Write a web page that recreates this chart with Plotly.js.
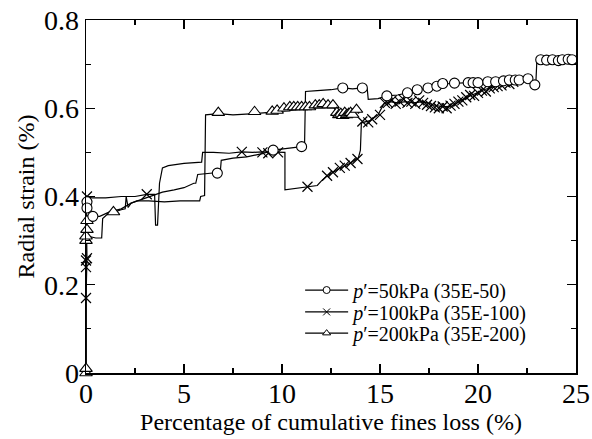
<!DOCTYPE html>
<html>
<head>
<meta charset="utf-8">
<script src="https://cdn.plot.ly/plotly-3.0.1.min.js"></script>
<style>html,body{margin:0;padding:0;background:#fff;}#chart{width:592px;height:439px;}</style>
</head>
<body>
<div id="chart"></div>
<script>
// ---- Series: p'=50kPa (35E-50), circles ----
const s50LineX = [0, 0, 0.05, 0.05, 0.3, 0.7, 1.2, 1.8, 2.3, 2.6, 3.0, 3.5, 3.9, 4.5, 5.0, 5.5, 5.6, 5.7, 6.2, 6.7, 6.85, 6.9, 7.5, 8.2, 9.0, 9.55, 10.2, 11.0, 11.15, 11.2, 11.8, 12.5, 13.1, 13.6, 14.1, 14.35, 14.4, 14.9, 15.35, 15.9, 16.4, 16.9, 17.45, 17.9, 18.2, 18.8, 19.5, 20.0, 20.5, 20.9, 21.3, 21.6, 22.1, 22.55, 22.8, 22.9, 22.95, 23.0, 23.5, 24.0, 24.5, 24.8];
const s50LineY = [0, 0.37, 0.39, 0.375, 0.355, 0.355, 0.365, 0.372, 0.385, 0.39, 0.395, 0.405, 0.41, 0.415, 0.42, 0.43, 0.43, 0.45, 0.452, 0.453, 0.455, 0.482, 0.487, 0.49, 0.497, 0.505, 0.508, 0.513, 0.515, 0.638, 0.64, 0.642, 0.646, 0.644, 0.646, 0.644, 0.62, 0.622, 0.628, 0.63, 0.635, 0.642, 0.646, 0.65, 0.655, 0.657, 0.658, 0.658, 0.66, 0.661, 0.662, 0.664, 0.664, 0.667, 0.66, 0.653, 0.655, 0.705, 0.708, 0.709, 0.71, 0.71];
const s50MarkX = [0.05, 0.05, 0.35, 6.7, 9.55, 11.0, 13.1, 14.1, 15.35, 16.4, 16.9, 17.45, 17.9, 18.2, 18.8, 19.5, 19.75, 20.0, 20.5, 20.9, 21.3, 21.6, 21.9, 22.1, 22.55, 22.9, 23.2, 23.5, 23.8, 24.1, 24.3, 24.6, 24.8];
const s50MarkY = [0.388, 0.374, 0.355, 0.453, 0.505, 0.513, 0.646, 0.646, 0.628, 0.635, 0.642, 0.646, 0.65, 0.656, 0.657, 0.658, 0.658, 0.658, 0.66, 0.66, 0.662, 0.664, 0.664, 0.664, 0.667, 0.653, 0.71, 0.709, 0.71, 0.708, 0.71, 0.711, 0.71];

// ---- Series: p'=100kPa (35E-100), crosses ----
const s100LineX = [0, 0, 0.05, 0, 0.3, 1.0, 1.8, 2.5, 3.1, 3.5, 3.55, 3.65, 3.75, 3.9, 4.2, 5.0, 5.9, 5.95, 6.5, 7.3, 7.95, 8.5, 9.0, 9.8, 10.15, 10.15, 10.6, 11.3, 11.8, 12.0, 12.3, 12.7, 13.0, 13.5, 13.9, 14.0, 14.05, 14.5, 14.9, 15.2, 15.5, 15.9, 16.3, 16.7, 17.2, 17.7, 18.2, 18.7, 19.2, 19.7, 20.3, 21.0, 21.4, 21.8];
const s100LineY = [0, 0.17, 0.26, 0.40, 0.397, 0.397, 0.40, 0.40, 0.405, 0.405, 0.335, 0.335, 0.43, 0.465, 0.47, 0.475, 0.478, 0.50, 0.50, 0.498, 0.501, 0.50, 0.501, 0.50, 0.50, 0.415, 0.418, 0.422, 0.425, 0.435, 0.447, 0.457, 0.465, 0.476, 0.488, 0.505, 0.567, 0.572, 0.585, 0.61, 0.615, 0.612, 0.615, 0.612, 0.615, 0.608, 0.603, 0.605, 0.62, 0.63, 0.642, 0.651, 0.66, 0.655];
const s100MarkX = [0, 0, 0, 0.05, 0.05, 3.1, 7.95, 9.0, 9.3, 9.8, 11.3, 12.3, 12.6, 12.95, 13.2, 13.5, 13.85, 14.1, 14.4, 14.6, 15.0, 15.25, 15.4, 15.6, 15.8, 16.0, 16.2, 16.4, 16.6, 16.8, 17.0, 17.2, 17.4, 17.6, 17.8, 18.0, 18.2, 18.4, 18.6, 18.8, 19.0, 19.2, 19.4, 19.6, 19.8, 20.0, 20.2, 20.4, 20.6, 20.8, 21.0, 21.2, 21.4, 21.6, 21.8];
const s100MarkY = [0.17, 0.24, 0.255, 0.26, 0.40, 0.405, 0.501, 0.50, 0.498, 0.50, 0.422, 0.447, 0.455, 0.465, 0.47, 0.476, 0.485, 0.57, 0.568, 0.575, 0.585, 0.612, 0.612, 0.618, 0.61, 0.615, 0.62, 0.612, 0.615, 0.61, 0.618, 0.612, 0.608, 0.605, 0.602, 0.60, 0.604, 0.60, 0.606, 0.61, 0.615, 0.618, 0.625, 0.63, 0.628, 0.635, 0.64, 0.638, 0.645, 0.648, 0.65, 0.652, 0.658, 0.655, 0.66];

// ---- Series: p'=200kPa (35E-200), triangles ----
const s200LineX = [0, 0, 0.1, 0.5, 0.8, 0.85, 1.1, 1.4, 1.8, 2.0, 2.05, 2.15, 2.3, 2.6, 3.2, 4.0, 4.8, 5.5, 5.8, 5.85, 6.05, 6.1, 6.75, 7.5, 8.0, 8.6, 9.2, 9.8, 10.4, 11.0, 11.6, 12.1, 12.6, 12.8, 13.0, 13.2, 13.3, 13.5, 13.6, 13.8, 13.9, 14.0];
const s200LineY = [0, 0.30, 0.31, 0.306, 0.306, 0.35, 0.36, 0.365, 0.37, 0.372, 0.40, 0.375, 0.385, 0.39, 0.39, 0.388, 0.39, 0.39, 0.39, 0.40, 0.402, 0.585, 0.588, 0.585, 0.587, 0.588, 0.59, 0.592, 0.595, 0.598, 0.60, 0.605, 0.605, 0.59, 0.583, 0.60, 0.582, 0.598, 0.583, 0.60, 0.588, 0.595];
const s200MarkX = [0, 0, 0, 0, 0.05, 0.05, 1.4, 6.75, 8.6, 9.5, 9.75, 10.1, 10.4, 10.6, 10.8, 11.0, 11.2, 11.4, 11.7, 11.9, 12.1, 12.35, 12.6, 12.8, 12.9, 13.0, 13.1, 13.2, 13.3, 13.4, 13.5, 13.6, 13.8];
const s200MarkY = [0, 0.01, 0.30, 0.31, 0.325, 0.345, 0.365, 0.59, 0.592, 0.593, 0.595, 0.60, 0.603, 0.603, 0.603, 0.603, 0.603, 0.603, 0.607, 0.607, 0.61, 0.607, 0.607, 0.59, 0.585, 0.588, 0.583, 0.59, 0.585, 0.588, 0.59, 0.586, 0.597];

const seriesNames = ["<i>p</i>′=50kPa (35E-50)", "<i>p</i>′=100kPa (35E-100)", "<i>p</i>′=200kPa (35E-200)"];
const xTicks = [0, 5, 10, 15, 20, 25];
const yTicks = [0, 0.2, 0.4, 0.6, 0.8];

const FONT = "'Liberation Serif', 'Times New Roman', serif";
const lineStyle = {color: '#000', width: 1.2};
const circleM = {symbol: 'circle', size: 10, color: '#fff', line: {color: '#000', width: 1.1}};
const crossM = {symbol: 'x-thin', size: 10, color: '#000', line: {color: '#000', width: 1.2}};
const triM = {symbol: 'triangle-up', size: 11, color: '#fff', line: {color: '#000', width: 1.1}};

function lineTrace(x, y) {
  return {x: x, y: y, mode: 'lines', line: lineStyle, showlegend: false, hoverinfo: 'skip'};
}
function markTrace(x, y, m) {
  return {x: x, y: y, mode: 'markers', marker: m, showlegend: false, cliponaxis: false, hoverinfo: 'skip'};
}
function legendTrace(name, m, leg) {
  const lm = Object.assign({}, m, {size: 7, line: {color: '#000', width: 1}});
  return {x: [null], y: [null], mode: 'lines+markers', name: name, line: lineStyle, marker: lm, legend: leg};
}

const data = [
  lineTrace(s50LineX, s50LineY),
  lineTrace(s100LineX, s100LineY),
  lineTrace(s200LineX, s200LineY),
  markTrace(s100MarkX, s100MarkY, crossM),
  markTrace(s200MarkX, s200MarkY, triM),
  markTrace(s50MarkX, s50MarkY, circleM),
  legendTrace(seriesNames[0], circleM, 'legend'),
  legendTrace(seriesNames[1], crossM, 'legend2'),
  legendTrace(seriesNames[2], triM, 'legend3')
];

const axisCommon = {
  showline: true, linecolor: '#000', linewidth: 1.5, mirror: 'ticks',
  ticks: 'inside', ticklen: 9, tickwidth: 1.2, tickcolor: '#000',
  showgrid: false, zeroline: false,
  tickfont: {family: FONT, size: 28, color: '#000'}
};

function legendAt(yPaper) {
  return {
    x: 0.437, y: yPaper, xanchor: 'left', yanchor: 'middle',
    bgcolor: 'rgba(0,0,0,0)', borderwidth: 0,
    font: {family: FONT, size: 20, color: '#000'},
    itemwidth: 43
  };
}

const layout = {
  width: 592, height: 439,
  margin: {l: 86, r: 16, t: 20, b: 66},
  paper_bgcolor: '#fff', plot_bgcolor: '#fff',
  font: {family: FONT, color: '#000'},
  xaxis: Object.assign({}, axisCommon, {
    range: [0, 25], tickvals: xTicks, ticktext: xTicks.map(String),
    ticklabelstandoff: -5,
    minor: {dtick: 2.5, ticks: 'inside', ticklen: 5, tickwidth: 1.2, tickcolor: '#000', showgrid: false},
    title: {text: 'Percentage of cumulative fines loss (%)', font: {family: FONT, size: 24, color: '#000'}, standoff: 0}
  }),
  yaxis: Object.assign({}, axisCommon, {
    range: [0, 0.8], tickvals: yTicks, ticktext: yTicks.map(String),
    minor: {dtick: 0.1, ticks: 'inside', ticklen: 5, tickwidth: 1.2, tickcolor: '#000', showgrid: false},
    title: {text: 'Radial strain (%)', font: {family: FONT, size: 24, color: '#000'}, standoff: 2}
  }),
  legend: legendAt(0.235),
  legend2: legendAt(0.173),
  legend3: legendAt(0.113),
  showlegend: true
};

Plotly.newPlot('chart', data, layout, {displayModeBar: false, staticPlot: true});
</script>
</body>
</html>
